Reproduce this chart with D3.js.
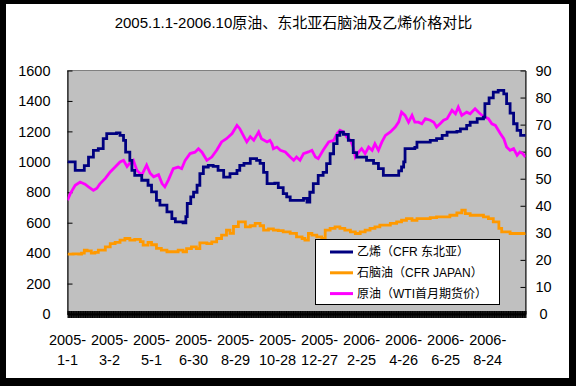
<!DOCTYPE html>
<html>
<head>
<meta charset="utf-8">
<script src="https://cdn.jsdelivr.net/npm/d3@7"></script>
<style>
  body { margin: 0; background: #000; }
  svg { display: block; }
  text { font-family: "Liberation Sans", Arial, "Noto Sans CJK SC", sans-serif; fill: #000; }
</style>
</head>
<body>
<svg id="chart" width="576" height="386"></svg>
<script>
/* dias contados desde 2005-01-01 y valores */
const startDate = new Date(2005, 0, 1)
const endDay = 654

const tickDays = [0, 60, 120, 180, 240, 300, 360, 420, 480, 540, 600]
const tickLabels = ["2005-1-1", "2005-3-2", "2005-5-1", "2005-6-30", "2005-8-29", "2005-10-28",
  "2005-12-27", "2006-2-25", "2006-4-26", "2006-6-25", "2006-8-24"]
const leftTicks = [0, 200, 400, 600, 800, 1000, 1200, 1400, 1600]
const rightTicks = [0, 10, 20, 30, 40, 50, 60, 70, 80, 90]

const seriesNames = ["乙烯（CFR 东北亚）", "石脑油（CFR JAPAN）", "原油（WTI首月期货价）"]
const seriesColors = ["#000080", "#FF9900", "#FF00FF"]

// 乙烯 (eje izquierdo)
const ethyleneDays = [0, 9, 11, 20, 24, 30, 37, 44, 51, 56, 70, 75, 80, 83, 89, 92, 96, 106, 115, 120,
  127, 132, 138, 142, 149, 154, 165, 169, 171, 176, 180, 185, 189, 194, 201, 208, 215, 223, 228, 232,
  242, 246, 252, 261, 270, 275, 280, 285, 296, 301, 308, 313, 318, 332, 337, 342, 346, 351, 358, 365,
  370, 375, 380, 385, 389, 394, 401, 404, 408, 413, 420, 427, 437, 444, 451, 470, 473, 477, 480, 482,
  489, 496, 499, 508, 518, 527, 535, 542, 556, 561, 570, 575, 585, 594, 596, 602, 608, 615, 623, 627,
  632, 637, 642, 647, 654]
const ethyleneValues = [1000, 1000, 944, 944, 975, 1031, 1075, 1086, 1152, 1185, 1190, 1174, 1141, 1064, 1010, 944, 911, 879, 846, 802,
  747, 715, 715, 671, 627, 605, 599, 640, 726, 769, 800, 846, 923, 966, 977, 970, 944, 900, 900, 923,
  944, 977, 990, 1021, 1010, 990, 930, 857, 860, 830, 791, 770, 747, 747, 760, 736, 800, 857, 911, 930,
  988, 1053, 1119, 1174, 1195, 1180, 1141, 1141, 1060, 1031, 1031, 1010, 990, 955, 911, 911, 940, 966, 1000, 1086,
  1086, 1095, 1130, 1130, 1141, 1152, 1174, 1195, 1200, 1217, 1239, 1260, 1283, 1294, 1382, 1420, 1458, 1469, 1447, 1382,
  1320, 1250, 1207, 1174, 1167]

// 石脑油 (eje izquierdo)
const naphthaDays = [0, 8, 16, 20, 24, 28, 34, 39, 44, 54, 61, 68, 75, 82, 89, 96, 104, 108, 115, 120,
  127, 134, 142, 151, 158, 165, 170, 177, 184, 189, 199, 206, 213, 220, 227, 232, 237, 244, 249, 254,
  261, 268, 275, 280, 287, 294, 301, 308, 318, 327, 335, 339, 344, 349, 356, 363, 368, 375, 382, 389,
  396, 404, 411, 418, 425, 432, 439, 446, 454, 461, 470, 477, 484, 492, 499, 508, 518, 527, 537, 546,
  556, 563, 568, 575, 585, 594, 601, 608, 616, 620, 632, 654]
const naphthaValues = [393, 395, 393, 400, 420, 415, 400, 405, 420, 441, 463, 470, 485, 496, 485, 490, 475, 452, 470, 455,
  431, 420, 409, 409, 420, 409, 430, 441, 430, 468, 463, 474, 496, 518, 551, 530, 575, 605, 605, 572,
  580, 595, 580, 551, 560, 551, 548, 540, 530, 507, 496, 485, 529, 518, 507, 496, 551, 562, 572, 562,
  551, 540, 529, 540, 551, 562, 572, 584, 584, 595, 605, 616, 627, 616, 627, 627, 633, 638, 638, 649,
  665, 682, 660, 649, 649, 638, 627, 605, 562, 540, 529, 533]

// 原油 WTI (eje derecho)
const crudeDays = [0, 4, 11, 18, 25, 30, 37, 42, 46, 54, 61, 68, 75, 80, 85, 89, 94, 99, 106, 113,
  118, 123, 130, 135, 139, 144, 151, 158, 163, 168, 175, 182, 187, 192, 199, 206, 213, 220, 227, 235,
  242, 246, 251, 256, 261, 266, 273, 277, 285, 289, 292, 294, 299, 304, 311, 318, 323, 327, 332, 337,
  344, 349, 354, 358, 365, 373, 380, 385, 389, 394, 399, 404, 408, 411, 416, 420, 425, 430, 435, 439,
  444, 449, 454, 461, 468, 473, 477, 482, 487, 492, 496, 501, 506, 511, 518, 523, 527, 532, 537, 542,
  549, 554, 558, 563, 570, 575, 582, 587, 592, 596, 601, 606, 611, 618, 623, 627, 632, 637, 642, 646,
  650, 654]
const crudeValues = [42.1, 44.5, 47.6, 48.8, 48.0, 47.0, 45.7, 46.5, 48.0, 50.1, 52.5, 54.3, 56.2, 56.8, 54.5, 55.8, 56.8, 53.1, 51.3, 55.0,
  52.0, 50.7, 51.5, 48.2, 47.0, 49.5, 53.7, 54.3, 53.7, 56.8, 59.3, 59.8, 61.1, 59.8, 56.8, 58.0, 60.5, 63.6, 64.8, 66.7,
  69.7, 68.5, 66.0, 63.6, 65.5, 64.2, 67.3, 64.8, 63.6, 64.2, 62.9, 61.1, 61.7, 60.5, 59.9, 58.0, 56.8, 58.0, 56.8, 59.3,
  59.9, 60.5, 58.0, 57.4, 60.5, 63.6, 64.2, 66.7, 67.9, 67.3, 65.4, 64.2, 61.7, 58.0, 59.9, 61.1, 59.3, 61.7, 60.5, 62.9,
  60.5, 63.6, 66.0, 67.3, 69.1, 71.0, 74.6, 73.4, 70.9, 73.4, 70.9, 70.9, 70.3, 72.2, 71.6, 70.9, 69.1, 70.3, 71.6, 72.2,
  75.3, 74.0, 76.5, 73.4, 74.6, 74.0, 75.9, 74.6, 73.4, 72.8, 72.2, 70.3, 69.7, 66.7, 64.8, 61.7, 60.5, 61.1, 58.7, 59.9,
  59.3, 58.0]

/* medidas del area de dibujo */
const plot = { left: 67.5, right: 525.5, top: 70.5, bottom: 314 }

const svg = d3.select("#chart")

// marco negro y fondo blanco
svg.append("rect").attr("width", 576).attr("height", 386).attr("fill", "#000")
svg.append("rect").attr("x", 6).attr("y", 4).attr("width", 563).attr("height", 374).attr("fill", "#fff")

const toDate = d => d3.timeDay.offset(startDate, d)

const x = d3.scaleTime()
  .domain([startDate, toDate(endDay)])
  .range([plot.left, plot.right])
const yLeft = d3.scaleLinear().domain([0, 1600]).range([plot.bottom, plot.top])
const yRight = d3.scaleLinear().domain([0, 90]).range([plot.bottom, plot.top])

// fondo gris del grafico
svg.append("rect")
  .attr("x", plot.left).attr("y", plot.top)
  .attr("width", plot.right - plot.left).attr("height", plot.bottom - plot.top)
  .attr("fill", "#C0C0C0").attr("stroke", "#808080").attr("stroke-width", 1)

// titulo
svg.append("text")
  .attr("x", 293.5).attr("y", 22)
  .attr("text-anchor", "middle").attr("dominant-baseline", "central")
  .style("font-size", "15px")
  .text("2005.1.1-2006.10原油、东北亚石脑油及乙烯价格对比")

/* ejes */
const axisLeft = d3.axisLeft(yLeft).tickValues(leftTicks).tickFormat(d3.format("d"))
  .tickSizeInner(-5).tickSizeOuter(0).tickPadding(17)
const gLeft = svg.append("g").attr("transform", `translate(${plot.left},0)`).call(axisLeft)

const axisRight = d3.axisRight(yRight).tickValues(rightTicks).tickFormat(d3.format("d"))
  .tickSizeInner(-5).tickSizeOuter(0).tickPadding(0)
const gRight = svg.append("g").attr("transform", `translate(${plot.right},0)`).call(axisRight)
gRight.selectAll(".tick text").attr("x", 18).attr("text-anchor", "middle")

// eje x: una marca por dia (forma la banda negra)
const allDays = d3.range(0, endDay + 1).map(toDate)
const axisBottom = d3.axisBottom(x).tickValues(allDays).tickSize(4).tickFormat("").tickSizeOuter(0)
const gBottom = svg.append("g").attr("transform", `translate(0,${plot.bottom})`).call(axisBottom)
gBottom.selectAll(".tick line").attr("y1", -3)

;[gLeft, gRight, gBottom].forEach(g => {
  g.selectAll("path, line").attr("stroke", "#000")
  g.selectAll("text").style("font-size", "14.5px").attr("fill", "#000")
})
gBottom.select(".domain").attr("stroke-width", 2)

// etiquetas del eje x en dos lineas
const xLabels = svg.append("g")
tickDays.forEach((d, i) => {
  const parts = tickLabels[i].split("-")
  const t = xLabels.append("text")
    .attr("x", x(toDate(d))).attr("text-anchor", "middle")
    .style("font-size", "14.5px")
  t.append("tspan").attr("x", x(toDate(d))).attr("y", 344.5).text(parts[0] + "-")
  t.append("tspan").attr("x", x(toDate(d))).attr("y", 364.5).text(parts[1] + "-" + parts[2])
})

/* lineas */
svg.append("clipPath").attr("id", "clip")
  .append("rect").attr("x", plot.left).attr("y", plot.top)
  .attr("width", plot.right - plot.left).attr("height", plot.bottom - plot.top)

const lines = svg.append("g").attr("clip-path", "url(#clip)")

function drawLine(days, values, yScale, color, curve) {
  const pts = days.map((d, i) => [toDate(d), values[i]])
  const line = d3.line()
    .x(p => x(p[0]))
    .y(p => yScale(p[1]))
    .curve(curve)
  lines.append("path")
    .datum(pts)
    .attr("d", line)
    .attr("fill", "none")
    .attr("stroke", color)
    .attr("stroke-width", 2.8)
    .attr("stroke-linejoin", "miter")
}

drawLine(naphthaDays, naphthaValues, yLeft, seriesColors[1], d3.curveStepAfter)
drawLine(crudeDays, crudeValues, yRight, seriesColors[2], d3.curveLinear)
drawLine(ethyleneDays, ethyleneValues, yLeft, seriesColors[0], d3.curveStepAfter)

/* leyenda */
const legend = svg.append("g")
legend.append("rect")
  .attr("x", 315.5).attr("y", 239.5).attr("width", 184).attr("height", 65)
  .attr("fill", "#fff").attr("stroke", "#000")
seriesNames.forEach((name, i) => {
  const yy = 252 + i * 20.8
  legend.append("line")
    .attr("x1", 330).attr("x2", 353).attr("y1", yy).attr("y2", yy)
    .attr("stroke", seriesColors[i]).attr("stroke-width", 3)
  legend.append("text")
    .attr("x", 357).attr("y", yy).attr("dominant-baseline", "central")
    .style("font-size", "12px")
    .text(name)
})
</script>
</body>
</html>
